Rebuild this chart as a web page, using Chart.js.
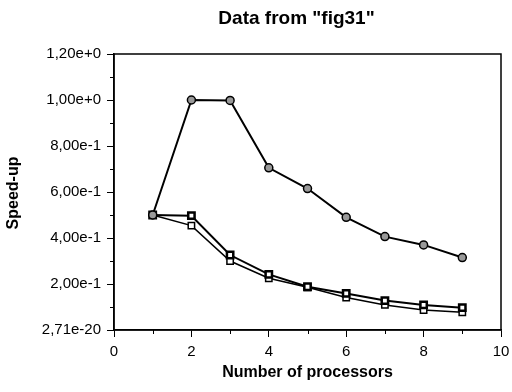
<!DOCTYPE html>
<html><head><meta charset="utf-8">
<script src="https://cdn.jsdelivr.net/npm/chart.js@4/dist/chart.umd.min.js"></script>
<style>html,body{margin:0;padding:0;background:#fff}#wrap{width:512px;height:392px}</style>
</head><body><div id="wrap"><canvas id="c" width="512" height="392"></canvas></div>
<script>
const processors = [1,2,3,4,5,6,7,8,9];
const seriesCircle = [0.5,1.0,0.998,0.705,0.615,0.49,0.406,0.37,0.315];
const seriesSquareA = [0.5,0.497,0.326,0.242,0.188,0.159,0.128,0.109,0.097];
const seriesSquareB = [0.5,0.454,0.30,0.225,0.186,0.141,0.109,0.087,0.077];
const yTickLabels = ['2,71e-20','2,00e-1','4,00e-1','6,00e-1','8,00e-1','1,00e+0','1,20e+0'];
const xTickLabels = ['0','2','4','6','8','10'];
const titleText = 'Data from "fig31"';
const xTitle = 'Number of processors';
const yTitle = 'Speed-up';

const FONT = '"Liberation Sans", Arial, sans-serif';
const pts = a => a.map((v,i)=>({x:processors[i], y:v}));

const boxPlugin = {
  id:'box',
  afterDraw(chart){
    const {ctx, chartArea:a} = chart;
    const xs = chart.scales.x, ys = chart.scales.y;
    ctx.save();
    ctx.strokeStyle='#000'; ctx.lineWidth=1.5;
    ctx.strokeRect(a.left, a.top, a.right-a.left, a.bottom-a.top);
    ctx.lineWidth=1;
    ctx.beginPath();
    for (let k=1;k<12;k+=2){ const y=Math.round(ys.getPixelForValue(k/10))+0.5; ctx.moveTo(a.left-4,y); ctx.lineTo(a.left,y); }
    for (let k=1;k<10;k+=2){ const x=Math.round(xs.getPixelForValue(k))+0.5; ctx.moveTo(x,a.bottom); ctx.lineTo(x,a.bottom+4); }
    ctx.stroke();
    ctx.fillStyle='#000';
    ctx.font='bold 19px '+FONT;
    ctx.textAlign='center'; ctx.textBaseline='middle';
    ctx.fillText(titleText, (a.left+a.right)/2 - 11, 19);
    ctx.font='bold 16px '+FONT;
    ctx.fillText(xTitle, (a.left+a.right)/2, 373);
    ctx.translate(14, (a.top+a.bottom)/2 + 1);
    ctx.rotate(-Math.PI/2);
    ctx.fillText(yTitle, 0, 0);
    ctx.restore();
  }
};

new Chart(document.getElementById('c'), {
  type:'scatter',
  data:{datasets:[
    {data:pts(seriesCircle), showLine:true, borderColor:'#000', borderWidth:2, pointStyle:'circle', pointRadius:4, pointBackgroundColor:'#999', pointBorderColor:'#000', pointBorderWidth:1.5},
    {data:pts(seriesSquareA), showLine:true, borderColor:'#000', borderWidth:2, pointStyle:'rect', pointRadius:4.5, pointBackgroundColor:'#fff', pointBorderColor:'#000', pointBorderWidth:2.5},
    {data:pts(seriesSquareB), showLine:true, borderColor:'#000', borderWidth:1.5, pointStyle:'rect', pointRadius:4.5, pointBackgroundColor:'#fff', pointBorderColor:'#000', pointBorderWidth:1.5}
  ]},
  options:{
    responsive:false, animation:false,
    layout:{padding:{top:54, right:0, left:0, bottom:0}},
    plugins:{legend:{display:false}, tooltip:{enabled:false}, title:{display:false}},
    scales:{
      x:{type:'linear', min:0, max:10,
        afterFit(s){ s.height = 62; s.paddingRight = 11; s.paddingLeft = 0; },
        border:{display:true, color:'#000', width:1.5},
        grid:{drawOnChartArea:false, drawTicks:true, tickLength:7, lineWidth:1,
          color:(c)=> (c.tick && c.tick.value%2===0) ? '#000' : 'rgba(0,0,0,0)'},
        ticks:{stepSize:1, autoSkip:false, maxRotation:0, color:'#000', font:{family:FONT, size:15}, padding:6,
          callback:(v)=> v%2===0 ? xTickLabels[v/2] : ''}
      },
      y:{type:'linear', min:0, max:1.2,
        afterFit(s){ s.width = 114; s.paddingTop = 0; s.paddingBottom = 0; },
        border:{display:true, color:'#000', width:1.5},
        grid:{drawOnChartArea:false, drawTicks:true, tickLength:7, lineWidth:1,
          color:(c)=> (c.tick && Math.round(c.tick.value*10)%2===0) ? '#000' : 'rgba(0,0,0,0)'},
        ticks:{stepSize:0.1, autoSkip:false, color:'#000', font:{family:FONT, size:15}, padding:6,
          callback:(v)=>{ const k=Math.round(v*10); return k%2===0 ? yTickLabels[k/2] : ''; }}
      }
    }
  },
  plugins:[boxPlugin]
});
</script></body></html>
